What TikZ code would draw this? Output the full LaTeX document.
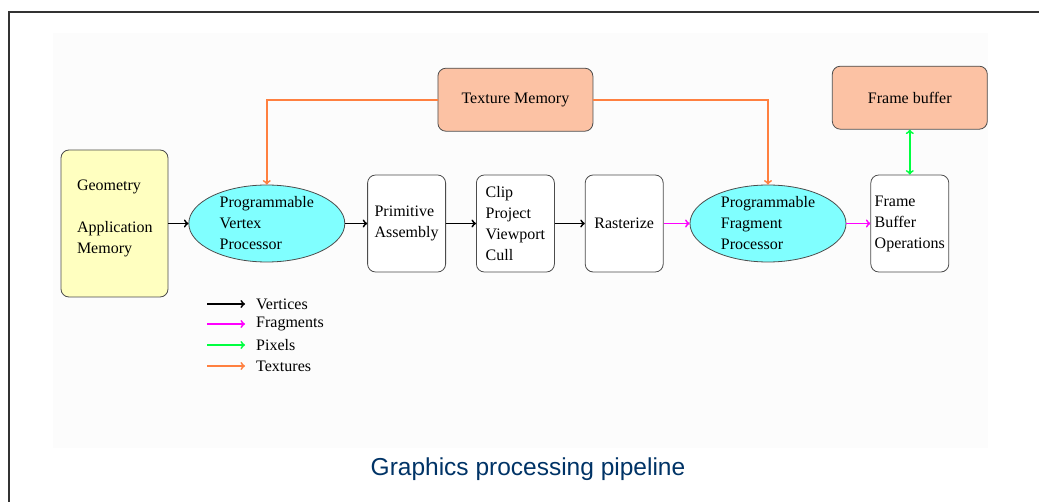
\documentclass[tikz,border=0pt]{standalone}
\usepackage{fontspec}
\setmainfont{Liberation Serif}
\newfontfamily\captionfont{Liberation Sans}
\usetikzlibrary{arrows,positioning,shapes.geometric}
\definecolor{boxline}{gray}{0.3}
\definecolor{geoyellow}{RGB}{255,255,192}
\definecolor{proccyan}{RGB}{128,255,255}
\definecolor{mempeach}{RGB}{252,194,164}
\definecolor{texorange}{RGB}{255,128,64}
\definecolor{fragmagenta}{RGB}{255,0,255}
\definecolor{pixgreen}{RGB}{0,255,64}
\definecolor{capblue}{RGB}{0,51,102}
\tikzset{
    %Define standard arrow tip
    >=to,
    font=\fontsize{16}{21}\selectfont,
    %Define style for boxes
    stage/.style={
           rectangle,
           rounded corners=8pt,
           draw=boxline, thick,
           fill=white,
           align=left,
           inner sep=2pt,
           minimum width=78pt,
           minimum height=97pt},
    memory/.style={stage,fill=mempeach,minimum width=155pt,minimum height=63pt},
    geometry/.style={stage,fill=geoyellow,minimum width=107pt,minimum height=147pt},
    % Define style for programmable units
    shader/.style={ellipse,fill=proccyan,draw=boxline,thick,align=left,
           inner xsep=0pt,inner ysep=-6pt,minimum width=156pt,minimum height=77pt},
    % Define arrow styles
    vert/.style={->,line width=1.8pt,draw=black},
    frag/.style={->,line width=1.8pt,draw=fragmagenta},
    pix/.style={<->,line width=1.8pt,draw=pixgreen},
    tex/.style={->,line width=1.8pt,draw=texorange}
}
\begin{document}
\begin{tikzpicture}[x=1pt,y=-1pt]
  \useasboundingbox (0,0) rectangle (1039,502);
  % frame and backdrop
  \fill[black!1] (53,33) rectangle (988,448);
  \draw[line width=2pt,black!80] (1039,12) -- (9,12) -- (9,502);
  % pipeline
  \node[geometry ] (geo) at (114.5,223.5) {\raisebox{5pt}[\height][\depth]{\parbox{75pt}{Geometry\\[21pt]Application\\Memory}}};
  \node[shader ] (vtx) [right=20pt of geo] {Programmable\\Vertex\\Processor};
  \node[stage ] (prim) [right=22pt of vtx] {Primitive\\Assembly};
  \node[stage ] (clip) [right=30pt of prim] {Clip\\Project\\Viewport\\Cull};
  \node[stage ] (rast) [right=30pt of clip] {Rasterize};
  \node[shader ] (fragp) [right=26pt of rast] {Programmable\\Fragment\\Processor};
  \node[stage ] (fbo) [right=24pt of fragp] {Frame\\Buffer\\Operations};
  \node[memory ] (tex) [above=43pt of clip] {Texture Memory};
  \node[memory ] (fb) [above=45pt of fbo] {Frame buffer};
  \draw[vert] (geo) -- (vtx);
  \draw[vert] (vtx) -- (prim);
  \draw[vert] (prim) -- (clip);
  \draw[vert] (clip) -- (rast);
  \draw[frag] (rast) -- (fragp);
  \draw[frag] (fragp) -- (fbo);
  \draw[pix] (fb) -- (fbo);
  \draw[tex] (tex.west) -| (vtx.north);
  \draw[tex] (tex.east) -| (fragp.north);
  % legend
  \foreach \y/\name/\kind in {304/Vertices/vert,324/Fragments/frag,345/Pixels/pix,366/Textures/tex}{
    \coordinate (k\name) at (207,\y);
    \node[anchor=west,inner sep=0pt] (l\name) at (256,\y) {\name};
    \draw[\kind,-to] (k\name) -- ++(38,0);
  }
  \node[font=\captionfont\fontsize{24.5}{28}\selectfont,text=capblue] (title) at (528,469) {Graphics processing pipeline};
\end{tikzpicture}
\end{document}
